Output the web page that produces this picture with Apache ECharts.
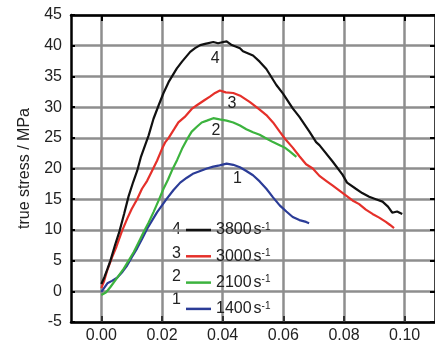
<!DOCTYPE html>
<html>
<head>
<meta charset="utf-8">
<script src="https://cdn.jsdelivr.net/npm/echarts@6/dist/echarts.min.js"></script>
<style>
html,body{margin:0;padding:0;background:#fff;}
#chart{width:435px;height:349px;}
</style>
</head>
<body>
<div id="chart"></div>
<script>
// ---- data ----
const curveNumbers = ['4', '3', '2', '1'];
const strainRates = ['3800', '3000', '2100', '1400'];
const seriesColors = ['#111111', '#e5302a', '#3cb33e', '#2b3c97'];
const xTicks = [0.00, 0.02, 0.04, 0.06, 0.08, 0.10];
const yTicks = [-5, 0, 5, 10, 15, 20, 25, 30, 35, 40, 45];

const curve4 = [[0,1.2],[0.001,2.3],[0.002,3.6],[0.003,5.0],[0.0045,7.5],[0.006,9.8],[0.0075,12.6],[0.009,15.5],[0.0105,17.8],[0.0118,19.6],[0.013,21.8],[0.014,23.2],[0.0156,25.4],[0.0172,28.1],[0.0189,30.3],[0.0205,32.3],[0.0222,34.1],[0.0249,36.3],[0.0266,37.4],[0.0293,39.0],[0.0309,39.6],[0.0326,40.1],[0.0342,40.3],[0.0369,40.6],[0.0385,40.4],[0.0402,40.6],[0.0413,40.7],[0.043,40.1],[0.0457,39.6],[0.0467,39.1],[0.05,38.4],[0.0522,37.4],[0.0544,36.2],[0.0577,33.6],[0.0599,32.2],[0.0631,29.8],[0.0653,28.4],[0.0686,26.0],[0.0708,24.3],[0.0719,23.8],[0.0763,21.1],[0.0795,19.0],[0.081,17.7],[0.0839,16.7],[0.086,16.0],[0.0883,15.4],[0.0905,15.0],[0.0927,14.6],[0.0945,13.8],[0.0959,12.8],[0.0975,13.0],[0.0992,12.6]];
const curve3 = [[0,0.5],[0.001,1.8],[0.002,3.5],[0.0035,5.5],[0.005,7.3],[0.0068,9.8],[0.0085,11.8],[0.01,13.4],[0.0118,15.0],[0.0134,16.7],[0.0151,18.0],[0.0167,19.6],[0.0184,21.3],[0.0200,23.2],[0.0211,24.3],[0.0222,25.0],[0.024,26.4],[0.0254,27.5],[0.0275,28.4],[0.0298,29.7],[0.0315,30.3],[0.0342,31.2],[0.0358,31.7],[0.0375,32.3],[0.0391,32.7],[0.041,32.4],[0.0435,32.3],[0.046,31.8],[0.049,30.8],[0.0522,29.6],[0.0544,28.7],[0.0566,27.5],[0.0588,26.0],[0.0606,24.8],[0.0631,23.4],[0.0653,22.0],[0.0675,20.7],[0.0697,20.0],[0.0719,18.8],[0.0741,18.0],[0.0763,17.2],[0.0785,16.4],[0.0807,15.6],[0.0828,14.8],[0.085,14.2],[0.0872,13.3],[0.0894,12.6],[0.0916,12.0],[0.0938,11.3],[0.0952,10.8],[0.0965,10.3]];
const curve2 = [[0,-0.6],[0.0015,-0.2],[0.003,0.7],[0.0052,2.2],[0.0074,3.7],[0.009,5.0],[0.0107,6.4],[0.0123,8.0],[0.014,9.7],[0.0156,11.2],[0.0172,12.9],[0.0189,14.8],[0.0205,16.7],[0.022,18.2],[0.0233,19.7],[0.025,21.4],[0.0266,23.2],[0.0282,24.7],[0.0298,26.0],[0.0315,26.8],[0.0331,27.5],[0.0348,27.8],[0.0369,28.2],[0.039,28.0],[0.0413,27.8],[0.0435,27.5],[0.0457,27.0],[0.0478,26.4],[0.05,25.9],[0.0522,25.5],[0.0544,24.9],[0.0566,24.3],[0.0588,23.8],[0.0605,23.4],[0.0621,22.8],[0.0643,21.9]];
const curve1 = [[0,-0.1],[0.001,0.6],[0.002,1.3],[0.0035,1.7],[0.0052,2.2],[0.007,3.2],[0.0085,4.2],[0.01,5.5],[0.0118,7.0],[0.0135,8.6],[0.0151,10.2],[0.0168,11.6],[0.0184,12.9],[0.02,14.0],[0.0216,15.1],[0.0238,16.5],[0.026,17.7],[0.0282,18.5],[0.0304,19.2],[0.0326,19.6],[0.0348,20.0],[0.0369,20.3],[0.039,20.5],[0.0413,20.8],[0.0435,20.6],[0.0457,20.2],[0.0478,19.6],[0.05,18.9],[0.0522,17.9],[0.0544,16.7],[0.0566,15.3],[0.0588,14.0],[0.061,13.0],[0.0631,12.1],[0.0653,11.6],[0.0675,11.3],[0.0685,11.1]];
const curves = [curve4, curve3, curve2, curve1];
// curve label anchor points (data coords)
const curveLabelPos = [[0.0375,37.9],[0.0431,30.6],[0.0378,26.2],[0.0449,18.4]];

// ---- chart ----
const FONT = "'Liberation Sans', Arial, sans-serif";
const TXT = '#222';
const chart = echarts.init(document.getElementById('chart'), null, {renderer: 'canvas'});

const series = curves.map((d, i) => ({
  name: strainRates[i],
  type: 'line',
  data: d,
  xAxisIndex: 0,
  yAxisIndex: 0,
  showSymbol: false,
  symbol: 'none',
  smooth: false,
  lineStyle: {color: seriesColors[i], width: 2.2},
  itemStyle: {color: seriesColors[i]},
  z: 5 - i,
  markPoint: {
    symbol: 'circle',
    symbolSize: 0,
    silent: true,
    label: {show: true, position: 'inside', color: TXT, fontSize: 16, fontFamily: FONT, formatter: curveNumbers[i]},
    data: [{coord: curveLabelPos[i], value: curveNumbers[i]}]
  }
}));

const gridGray = '#8e8e8e';
const legendTop = 222;
const rowStep = 23.3;
chart.setOption({
  animation: false,
  backgroundColor: '#fff',
  grid: {left: 71, right: -1, top: 15, bottom: 27},
  legend: {
    orient: 'vertical',
    left: 186,
    top: legendTop,
    padding: 0,
    itemWidth: 25,
    itemHeight: 2.5,
    itemGap: rowStep - 16,
    icon: 'rect',
    selectedMode: false,
    data: strainRates,
    formatter: (n) => '{a|' + n + '}{s|s}{b|-1}',
    textStyle: {
      color: TXT, fontFamily: FONT, fontSize: 16,
      rich: {
        a: {fontSize: 16, fontFamily: FONT, color: TXT, lineHeight: 16},
        s: {fontSize: 16, fontFamily: FONT, color: TXT, lineHeight: 16, padding: [0, 0, 0, 2]},
        b: {fontSize: 10, fontFamily: FONT, color: TXT, lineHeight: 16, verticalAlign: 'top', padding: [0, 0, 9, 0]}
      }
    }
  },
  graphic: curveNumbers.map((n, i) => ({
    type: 'text',
    left: 172,
    top: legendTop + i * rowStep,
    style: {text: n, fill: TXT, font: '16px ' + FONT}
  })),
  xAxis: [{
    type: 'value', position: 'bottom', min: -0.01, max: 0.11,
    axisLine: {show: true, onZero: false, lineStyle: {color: '#000', width: 2.5}},
    axisTick: {show: true, inside: true, length: 6, customValues: xTicks, lineStyle: {color: '#333', width: 2}},
    axisLabel: {show: true, customValues: xTicks, margin: 6, color: TXT, fontSize: 16, fontFamily: FONT,
      formatter: (v) => v.toFixed(2)},
    splitLine: {show: true, lineStyle: {color: gridGray, width: 2.5}}
  }, {
    type: 'value', position: 'top', min: -0.01, max: 0.11,
    axisLine: {show: true, onZero: false, lineStyle: {color: '#000', width: 2.5}},
    axisTick: {show: true, inside: true, length: 6, customValues: xTicks, lineStyle: {color: '#000', width: 2}},
    axisLabel: {show: false},
    splitLine: {show: false}
  }],
  yAxis: [{
    type: 'value', position: 'left', min: -5, max: 45, interval: 5,
    name: 'true stress / MPa', nameLocation: 'middle', nameGap: 38, nameRotate: 90,
    nameTextStyle: {color: TXT, fontSize: 16, fontFamily: FONT},
    axisLine: {show: true, onZero: false, lineStyle: {color: '#000', width: 2.5}},
    axisTick: {show: true, inside: true, length: 4, lineStyle: {color: '#000', width: 2}},
    axisLabel: {show: true, margin: 9, color: TXT, fontSize: 16, fontFamily: FONT,
      formatter: (v) => String(yTicks.find(t => Math.abs(t - v) < 1e-9) ?? v)},
    splitLine: {show: true, lineStyle: {color: gridGray, width: 2.5}}
  }, {
    type: 'value', position: 'right', min: -5, max: 45, interval: 5,
    axisLine: {show: true, onZero: false, lineStyle: {color: '#000', width: 2.5}},
    axisTick: {show: true, inside: true, length: 5, lineStyle: {color: '#000', width: 2}},
    axisLabel: {show: false},
    splitLine: {show: false}
  }],
  series: series
});
</script>
</body>
</html>
